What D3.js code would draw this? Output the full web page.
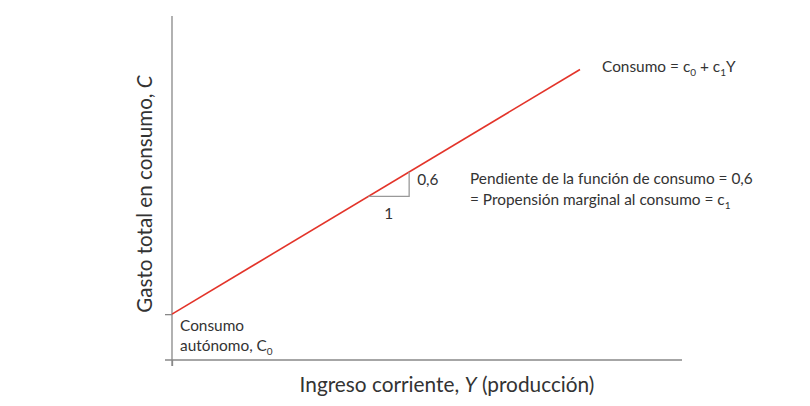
<!DOCTYPE html>
<html>
<head>
<meta charset="utf-8">
<script src="https://cdn.jsdelivr.net/npm/d3@7"></script>
<style>
  body { margin: 0; background: #fff; }
  text { font-family: Lato, "Noto Sans", sans-serif; fill: #333; }
</style>
</head>
<body>
<script>
// Chart values
const c0 = 0.9;          // autonomous consumption
const c1 = 0.6;          // marginal propensity to consume
const incomeRange = [0, 8];   // Y range of the consumption line
const triangleStart = [3.85]; // Y where the slope triangle starts
const triangleRun = [0.8];    // run of the slope triangle

const width = 810, height = 406;

const svg = d3.select('body').append('svg')
    .attr('width', width)
    .attr('height', height);

// Scales
const x = d3.scaleLinear().domain([0, 10]).range([172, 682]);
const y = d3.scaleLinear().domain([0, 6.75]).range([360, 16]);

// Axes (no tick labels)
svg.append('g')
    .attr('transform', `translate(0,${y(0)})`)
    .call(d3.axisBottom(x).tickValues([0]).tickSize(6).tickFormat(''))
    .call(g => g.select('.domain').attr('d', `M${x(0) - 7},0H${x(10)}`))
    .call(g => g.selectAll('line').attr('y1', 0).attr('y2', 6))
    .call(g => g.selectAll('path, line').attr('stroke', '#888').attr('stroke-width', 1.3));

svg.append('g')
    .attr('transform', `translate(${x(0)},0)`)
    .call(d3.axisLeft(y).tickValues([c0]).tickSize(7).tickFormat(''))
    .call(g => g.select('.domain').attr('d', `M0,${y(6.75)}V${y(0) + 6}`))
    .call(g => g.selectAll('path, line').attr('stroke', '#888').attr('stroke-width', 1.3));

// Consumption line
const line = d3.line().x(d => x(d)).y(d => y(c0 + c1 * d));
svg.append('path')
    .datum(incomeRange)
    .attr('d', line)
    .attr('fill', 'none')
    .attr('stroke', '#e3342a')
    .attr('stroke-width', 1.6);

// Slope triangle
const t0 = triangleStart[0], t1 = t0 + triangleRun[0];
svg.append('path')
    .attr('d', `M${x(t0)},${y(c0 + c1 * t0)}H${x(t1)}V${y(c0 + c1 * t1)}`)
    .attr('fill', 'none')
    .attr('stroke', '#999')
    .attr('stroke-width', 1.3);

svg.append('text')
    .attr('x', x(t1) + 8).attr('y', y(c0 + c1 * (t0 + t1) / 2 + 0.03) + 2)
    .attr('font-size', 15.4)
    .text('0,6');

svg.append('text')
    .attr('x', x((t0 + t1) / 2)).attr('y', y(c0 + c1 * t0) + 23)
    .attr('text-anchor', 'middle')
    .attr('font-size', 15.4)
    .text('1');

// Line label
const lbl = svg.append('text')
    .attr('x', 602).attr('y', 72)
    .attr('font-size', 15.4);
lbl.append('tspan').text('Consumo = c');
lbl.append('tspan').attr('font-size', 10).attr('dy', 4).text('0');
lbl.append('tspan').attr('dy', -4).text(' + c');
lbl.append('tspan').attr('font-size', 10).attr('dy', 4).text('1');
lbl.append('tspan').attr('dy', -4).text('Y');

// Slope annotation
svg.append('text')
    .attr('x', 470).attr('y', 184)
    .attr('font-size', 15.4)
    .text('Pendiente de la función de consumo = 0,6');
const p2 = svg.append('text')
    .attr('x', 470).attr('y', 205)
    .attr('font-size', 15.4);
p2.append('tspan').text('= Propensión marginal al consumo = c');
p2.append('tspan').attr('font-size', 10).attr('dy', 4).text('1');

// Autonomous consumption
svg.append('text')
    .attr('x', 180).attr('y', 331)
    .attr('font-size', 15.4)
    .text('Consumo');
const a2 = svg.append('text')
    .attr('x', 180).attr('y', 351)
    .attr('font-size', 15.4);
a2.append('tspan').text('autónomo, C');
a2.append('tspan').attr('font-size', 10).attr('dy', 4).text('0');

// Axis titles
const xt = svg.append('text')
    .attr('x', 447).attr('y', 392)
    .attr('text-anchor', 'middle')
    .attr('font-size', 20.8);
xt.append('tspan').text('Ingreso corriente, ');
xt.append('tspan').attr('font-style', 'italic').text('Y');
xt.append('tspan').text(' (producción)');

const yt = svg.append('text')
    .attr('transform', `translate(152,194) rotate(-90)`)
    .attr('text-anchor', 'middle')
    .attr('font-size', 20.6);
yt.append('tspan').text('Gasto total en consumo, ');
yt.append('tspan').attr('font-style', 'italic').text('C');
</script>
</body>
</html>
